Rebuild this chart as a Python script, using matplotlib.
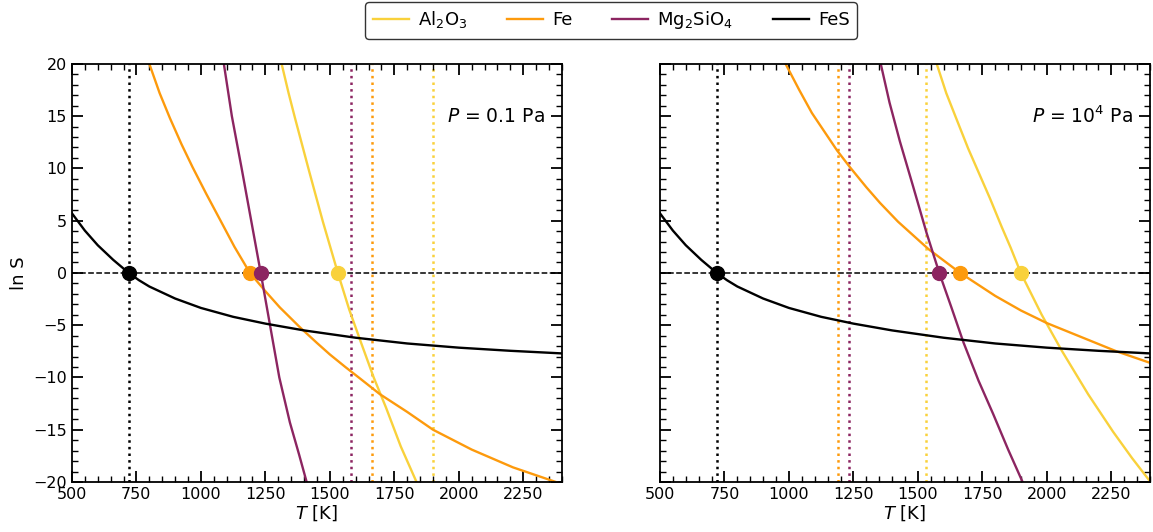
import numpy as np
import matplotlib.pyplot as plt

# colours
c_al = '#f9d13b'
c_fe = '#fd9a0c'
c_mg = '#8c2561'
c_fes = 'black'

# FeS (same in both panels)
T_fes = [500, 550, 600, 660, 720, 760, 800, 900, 1000, 1125, 1250, 1400, 1600, 1800, 2000, 2200, 2400]
S_fes = [5.7, 4.05, 2.65, 1.25, 0.0, -0.7, -1.3, -2.45, -3.35, -4.2, -4.85, -5.5, -6.2, -6.75, -7.15, -7.45, -7.7]

# P = 0.1 Pa
T_fe_a = [800, 840, 880, 925, 968, 1020, 1074, 1130, 1190, 1250, 1306, 1384, 1450, 1500, 1560,
          1617, 1694, 1800, 1900, 2050, 2210, 2400]
S_fe_a = [20, 17.2, 14.8, 12.3, 10.1, 7.6, 5.1, 2.5, 0, -1.75, -3.3, -5.2, -6.7, -7.8, -9.0,
          -10.1, -11.6, -13.3, -15.0, -16.9, -18.6, -20.2]
T_mg_a = [1089, 1120, 1158, 1195, 1232, 1268, 1304, 1345, 1381, 1410]
S_mg_a = [20, 15, 10, 5, 0, -5, -10, -14.3, -17.4, -20]
T_al_a = [1313, 1340, 1365, 1420, 1473, 1531, 1575, 1617, 1670, 1718, 1775, 1836]
S_al_a = [20, 17.2, 14.8, 9.7, 4.9, 0, -3.5, -6.4, -10.0, -12.9, -16.6, -20]

# P = 1e4 Pa
T_fe_b = [987, 1040, 1089, 1187, 1237, 1300, 1353, 1423, 1540, 1664, 1800, 1900, 2000, 2150, 2270, 2400]
S_fe_b = [20, 17.5, 15.3, 11.7, 10.1, 8.2, 6.7, 4.9, 2.3, 0, -2.2, -3.6, -4.8, -6.3, -7.5, -8.6]
T_mg_b = [1356, 1390, 1430, 1480, 1534, 1583, 1630, 1676, 1735, 1792, 1850, 1906]
S_mg_b = [20, 16.3, 12.6, 8.4, 3.8, 0, -3.3, -6.6, -10.3, -13.5, -16.9, -20]
T_al_b = [1573, 1610, 1650, 1695, 1741, 1780, 1825, 1860, 1899, 1980, 2057, 2160, 2257, 2330, 2402]
S_al_b = [20, 17.2, 14.7, 11.9, 9.3, 7.1, 4.4, 2.4, 0, -4.0, -7.4, -11.6, -15.2, -17.7, -20]

# condensation temperatures (S = 1)
Tc_a = {'FeS': 720, 'Fe': 1190, 'Mg': 1232, 'Al': 1531}
Tc_b = {'FeS': 720, 'Fe': 1664, 'Mg': 1583, 'Al': 1899}

panels = [
    (T_fe_a, S_fe_a, T_mg_a, S_mg_a, T_al_a, S_al_a, Tc_a, Tc_b, r'$P$ = 0.1 Pa'),
    (T_fe_b, S_fe_b, T_mg_b, S_mg_b, T_al_b, S_al_b, Tc_b, Tc_a, r'$P$ = 10$^4$ Pa'),
]

fig, axes = plt.subplots(1, 2, figsize=(11.53, 5.32), dpi=100, sharey=True)
fig.subplots_adjust(left=0.0624, right=0.9974, bottom=0.094, top=0.88, wspace=0.2)

for ax, (tf, sf, tm, sm, ta, sa, tc, tc_other, label) in zip(axes, panels):
    ax.axhline(0, color='black', ls='--', lw=1.1, zorder=1)
    # dotted lines: condensation temps at the other pressure
    ax.axvline(tc_other['Mg'], color=c_mg, ls=':', lw=1.8, zorder=1)
    ax.axvline(tc_other['Fe'], color=c_fe, ls=':', lw=1.8, zorder=1)
    ax.axvline(tc_other['Al'], color=c_al, ls=':', lw=1.8, zorder=1)
    ax.axvline(720, color='black', ls=':', lw=1.8, zorder=1)

    ax.plot(ta, sa, color=c_al, lw=1.7, label=r'Al$_2$O$_3$')
    ax.plot(tf, sf, color=c_fe, lw=1.7, label='Fe')
    ax.plot(tm, sm, color=c_mg, lw=1.7, label=r'Mg$_2$SiO$_4$')
    ax.plot(T_fes, S_fes, color=c_fes, lw=1.7, label='FeS')

    ax.plot(tc['Al'], 0, 'o', color=c_al, ms=10, zorder=5)
    ax.plot(tc['Fe'], 0, 'o', color=c_fe, ms=10, zorder=5)
    ax.plot(tc['Mg'], 0, 'o', color=c_mg, ms=10, zorder=5)
    ax.plot(tc['FeS'], 0, 'o', color='black', ms=10, zorder=5)

    ax.text(0.965, 0.875, label, transform=ax.transAxes, ha='right', va='center', fontsize=13.5)

    ax.set_xlim(500, 2400)
    ax.set_ylim(-20, 20)
    ax.set_xticks([500, 750, 1000, 1250, 1500, 1750, 2000, 2250])
    ax.set_xticks(np.arange(500, 2401, 50), minor=True)
    ax.set_yticks([-20, -15, -10, -5, 0, 5, 10, 15, 20])
    ax.set_yticks(np.arange(-20, 21, 1), minor=True)
    ax.tick_params(which='both', direction='in', top=True, right=True, labelsize=11.5)
    ax.tick_params(which='major', length=8, width=1.3)
    ax.tick_params(which='minor', length=4, width=1)
    for s in ax.spines.values():
        s.set_linewidth(1.3)
    ax.set_xlabel(r'$T$ [K]', fontsize=13, labelpad=1)

axes[0].set_ylabel('ln S', fontsize=13)

h, l = axes[0].get_legend_handles_labels()
fig.legend(h, l, loc='upper center', ncol=4, bbox_to_anchor=(0.53, 1.013), fontsize=13,
           frameon=True, edgecolor='black', fancybox=True, handlelength=2.0,
           handletextpad=0.5, columnspacing=2.2)

plt.savefig('out.png', dpi=100)
